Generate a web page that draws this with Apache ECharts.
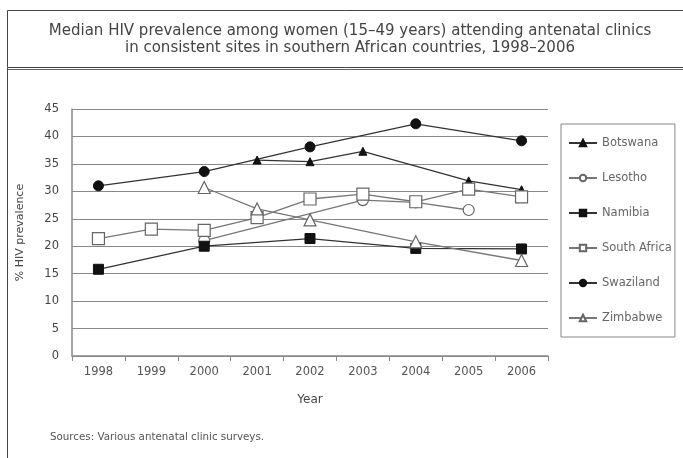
<!DOCTYPE html>
<html>
<head>
<meta charset="utf-8">
<script src="https://cdn.jsdelivr.net/npm/echarts@6/dist/echarts.min.js"></script>
<style>
html,body{margin:0;padding:0;background:#fff;}
#c{width:683px;height:458px;}
</style>
</head>
<body>
<div id="c"></div>
<script>
var years = ['1998','1999','2000','2001','2002','2003','2004','2005','2006'];
var botswana    = [null, null, null, 35.7, 35.4, 37.3, null, 31.9, 30.3];
var lesotho     = [null, null, 21.0, null, null, 28.4, 28.0, 26.6, null];
var namibia     = [15.8, null, 20.0, null, 21.4, null, 19.6, null, 19.5];
var southAfrica = [21.4, 23.1, 22.9, 25.2, 28.6, 29.5, 28.1, 30.4, 29.0];
var swaziland   = [31.0, null, 33.6, null, 38.1, null, 42.3, null, 39.2];
var zimbabwe    = [null, null, 30.7, 26.8, 24.8, null, 20.8, null, 17.4];
var yTicks = [0,5,10,15,20,25,30,35,40,45];

var font = '"DejaVu Sans", sans-serif';
function mk(name, data, symbol, size, filled, lineColor) {
  return {
    name: name, type: 'line', data: data, connectNulls: true,
    symbol: symbol, symbolSize: size,
    lineStyle: {color: lineColor, width: 1.3},
    itemStyle: filled ? {color: '#111', borderColor: '#111', borderWidth: 1}
                      : {color: '#fff', borderColor: '#666', borderWidth: 1.2},
    emphasis: {disabled: true}
  };
}
var chart = echarts.init(document.getElementById('c'), null, {renderer: 'canvas'});
chart.setOption({
  animation: false,
  backgroundColor: '#fff',
  title: {
    text: 'Median HIV prevalence among women (15–49 years) attending antenatal clinics\nin consistent sites in southern African countries, 1998–2006',
    left: 345, textAlign: 'center', top: 18,
    textStyle: {fontFamily: font, fontSize: 15, fontWeight: 'normal', color: '#444', lineHeight: 17}
  },
  graphic: [
    {type: 'rect', shape: {x: 7.5, y: 10.5, width: 690, height: 57}, style: {fill: 'none', stroke: '#444', lineWidth: 1}},
    {type: 'line', shape: {x1: 7, y1: 69.5, x2: 683, y2: 69.5}, style: {stroke: '#666', lineWidth: 1}},
    {type: 'line', shape: {x1: 7.5, y1: 68, x2: 7.5, y2: 458}, style: {stroke: '#444', lineWidth: 1}},
    {type: 'text', left: 50, top: 432, style: {text: 'Sources: Various antenatal clinic surveys.', fontFamily: font, fontSize: 10.3, fill: '#555'}}
  ],
  legend: {
    orient: 'vertical', left: 561, top: 124,
    padding: [13, 3, 13, 7], itemGap: 23, itemWidth: 28, itemHeight: 8,
    borderColor: '#888', borderWidth: 1,
    textStyle: {fontFamily: font, fontSize: 11.5, color: '#666'},
    data: ['Botswana','Lesotho','Namibia','South Africa','Swaziland','Zimbabwe']
  },
  grid: {left: 72, right: 135, top: 109, bottom: 102},
  xAxis: {
    type: 'category', data: years, boundaryGap: true,
    name: 'Year', nameLocation: 'middle', nameGap: 38,
    nameTextStyle: {fontFamily: font, fontSize: 12, color: '#444'},
    axisLine: {lineStyle: {color: '#888', width: 1.5}},
    axisTick: {show: true, length: 5, lineStyle: {color: '#888'}},
    axisLabel: {fontFamily: font, fontSize: 11.5, color: '#555', margin: 10}
  },
  yAxis: {
    type: 'value', min: 0, max: 45, interval: 5,
    name: '% HIV prevalence', nameLocation: 'middle', nameGap: 46,
    nameTextStyle: {fontFamily: font, fontSize: 11, color: '#444'},
    axisLine: {show: true, lineStyle: {color: '#888', width: 1.5}},
    axisTick: {show: false},
    axisLabel: {fontFamily: font, fontSize: 11.5, color: '#444', margin: 13},
    splitLine: {lineStyle: {color: '#888', width: 1.2}}
  },
  series: [
    mk('Botswana', botswana, 'triangle', 8, true, '#333'),
    mk('Lesotho', lesotho, 'circle', 11, false, '#777'),
    mk('Namibia', namibia, 'rect', 10, true, '#333'),
    mk('South Africa', southAfrica, 'rect', 12, false, '#777'),
    mk('Swaziland', swaziland, 'circle', 10, true, '#333'),
    mk('Zimbabwe', zimbabwe, 'triangle', 12, false, '#777')
  ]
});
</script>
</body>
</html>
